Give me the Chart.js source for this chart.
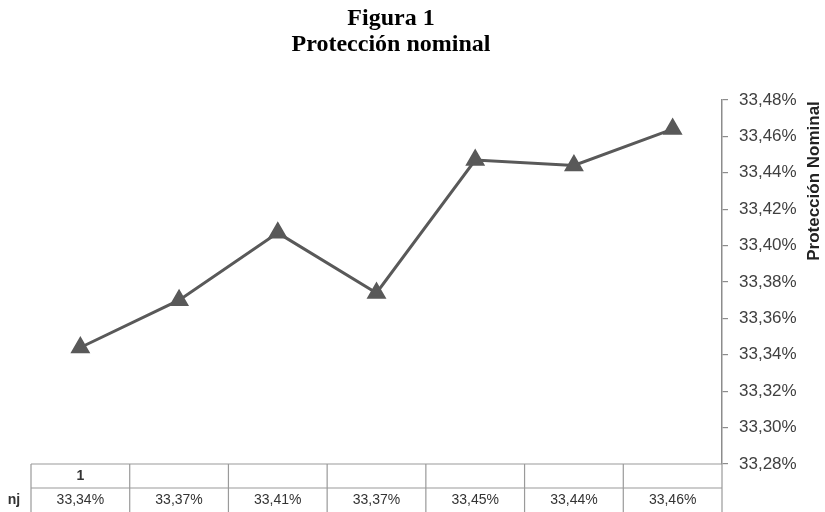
<!DOCTYPE html>
<html>
<head>
<meta charset="utf-8">
<script src="https://cdn.jsdelivr.net/npm/chart.js@4"></script>
<style>
  html, body { margin: 0; padding: 0; background: #fff; }
  #wrap { width: 825px; height: 512px; }
</style>
</head>
<body>
<div id="wrap"><canvas id="graficoProteccion"></canvas></div>
<script>
// categorías (fila superior de la tabla) y valores de la serie nj
let categorias = ["1", "", "", "", "", "", ""];
let valoresNj = [33.344, 33.370, 33.407, 33.374, 33.447, 33.444, 33.464];
let nombreSerie = "nj";
let tituloEje = "Protección Nominal";
let titulos = ["Figura 1", "Protección nominal"];

function pct(v) {
  return v.toFixed(2).replace(".", ",") + "%";
}

// dibuja el título, la tabla de datos bajo el gráfico y el título del eje
let tablaDatos = {
  id: "tablaDatos",
  afterDraw(chart) {
    let ctx = chart.ctx;
    let x = chart.scales.x;
    let area = chart.chartArea;
    let paso = x.getPixelForValue(1) - x.getPixelForValue(0);
    let top = area.bottom;
    let mid = top + 24;
    let bot = chart.height;

    ctx.save();
    ctx.textAlign = "center";
    ctx.textBaseline = "middle";
    ctx.fillStyle = "#000";
    ctx.font = "bold 24px 'Liberation Serif'";
    titulos.forEach((t, i) => ctx.fillText(t, 391, 19 + i * 26));

    ctx.strokeStyle = "#9a9a9a";
    ctx.lineWidth = 1.2;
    ctx.beginPath();
    ctx.moveTo(area.left, top); ctx.lineTo(area.right, top);
    ctx.moveTo(area.left, mid); ctx.lineTo(area.right, mid);
    for (let i = 0; i <= categorias.length; i++) {
      let px = x.getPixelForValue(0) - paso / 2 + i * paso;
      ctx.moveTo(px, top); ctx.lineTo(px, bot);
    }
    ctx.stroke();

    ctx.fillStyle = "#333";
    ctx.font = "bold 14px 'Liberation Sans'";
    categorias.forEach((c, i) => ctx.fillText(c, x.getPixelForValue(i), top + 12));
    ctx.font = "14px 'Liberation Sans'";
    valoresNj.forEach((v, i) => ctx.fillText(pct(v), x.getPixelForValue(i), mid + 12));
    ctx.font = "bold 14px 'Liberation Sans'";
    ctx.fillText(nombreSerie, 14, mid + 12);

    // título del eje, leído de abajo hacia arriba
    ctx.translate(814, 181);
    ctx.rotate(-Math.PI / 2);
    ctx.font = "bold 17px 'Liberation Sans'";
    ctx.fillStyle = "#222";
    ctx.fillText(tituloEje, 0, 0);
    ctx.restore();
  }
};

let ctx = document.getElementById("graficoProteccion").getContext("2d");

let grafico = new Chart(ctx, {
  type: "line",
  data: {
    labels: categorias,
    datasets: [{
      label: nombreSerie,
      data: valoresNj,
      borderColor: "#595959",
      backgroundColor: "#595959",
      borderWidth: 3,
      pointStyle: "triangle",
      pointRadius: 8.5,
      pointHoverRadius: 8.5,
      tension: 0,
    }],
  },
  options: {
    responsive: true,
    maintainAspectRatio: false,
    animation: false,
    layout: { padding: { left: 31, bottom: 48, right: 0, top: 100 } },
    plugins: {
      legend: { display: false },
      tooltip: { enabled: false },
      title: { display: false },
    },
    scales: {
      x: {
        display: false,
        offset: true,
      },
      y: {
        position: "right",
        min: 33.28,
        max: 33.48,
        afterFit(scale) { scale.width = 103; },
        border: { display: true, color: "#8c8c8c", width: 1.5 },
        grid: { drawOnChartArea: false, drawTicks: true, tickLength: 6, color: "#8c8c8c", lineWidth: 1.2 },
        ticks: {
          stepSize: 0.02,
          padding: 11,
          color: "#404040",
          font: { family: "'Liberation Sans'", size: 17 },
          callback: (v) => pct(v),
        },
      },
    },
  },
  plugins: [tablaDatos],
});
</script>
</body>
</html>
